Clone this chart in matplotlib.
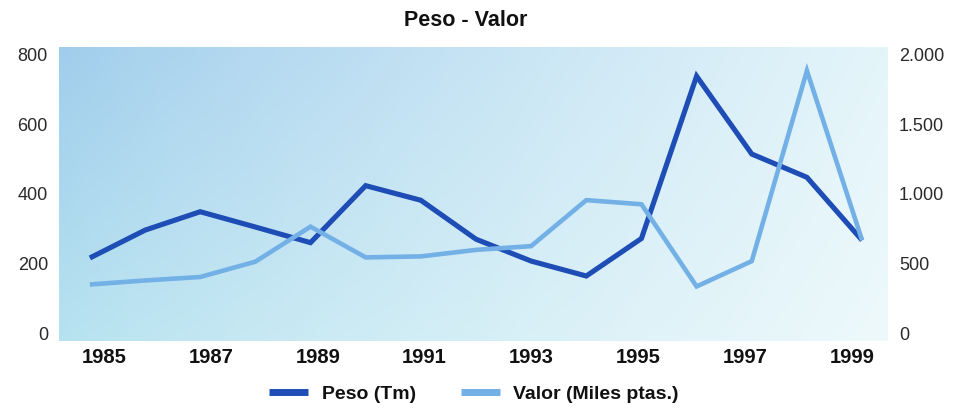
import numpy as np
import matplotlib
matplotlib.use("Agg")
import matplotlib.pyplot as plt
from matplotlib.lines import Line2D
from matplotlib.ticker import FuncFormatter

plt.rcParams["font.family"] = ["Liberation Sans", "DejaVu Sans"]

# Annual series
years = [1985, 1986, 1987, 1988, 1989, 1990, 1991, 1992,
         1993, 1994, 1995, 1996, 1997, 1998, 1999]
peso_tm = [216, 296, 349, 305, 260, 424, 382, 270,
           207, 164, 272, 739, 515, 448, 267]
valor_miles = [349, 378, 403, 513, 765, 544, 551, 598,
               625, 956, 926, 335, 517, 1887, 667]

label_years = [1985, 1987, 1989, 1991, 1993, 1995, 1997, 1999]
left_ticks = [0, 200, 400, 600, 800]
right_ticks = [0, 500, 1000, 1500, 2000]

title = "Peso - Valor"
peso_label = "Peso (Tm)"
valor_label = "Valor (Miles ptas.)"

dark_blue = "#1f4db6"
light_blue = "#72b0e6"

W, H = 954, 412
fig = plt.figure(figsize=(W / 100, H / 100), dpi=100)
fig.patch.set_facecolor("white")

x0, x1, y0, y1 = 59, 888, 47, 341
rect = [x0 / W, 1 - y1 / H, (x1 - x0) / W, (y1 - y0) / H]
ax = fig.add_axes(rect)
for s in ax.spines.values():
    s.set_visible(False)

# soft blue gradient panel
nx, ny = 300, 120
u = np.linspace(0, 1, nx)[None, :]
v = np.linspace(0, 1, ny)[:, None]  # 0 top -> 1 bottom
tl = np.array([160, 205, 236]) / 255
tr = np.array([228, 245, 250]) / 255
bl = np.array([182, 226, 240]) / 255
br = np.array([238, 249, 251]) / 255
uu = (u ** 0.85)[..., None]
vv = v[..., None]
grad = (tl * (1 - uu) * (1 - vv) + tr * uu * (1 - vv)
        + bl * (1 - uu) * vv + br * uu * vv)
ax.imshow(grad, extent=[0, 1, 0, 1], transform=ax.transAxes,
          aspect="auto", zorder=0, interpolation="bicubic")

ax.set_xlim(1984.44, 1999.47)
ax.set_ylim(-23, 823)
ax.set_xticks([])
ax.set_yticks(left_ticks)
ax.tick_params(axis="y", length=0, pad=8, labelsize=13, labelcolor="#2a2a2a")

ax.plot(years, peso_tm, color=dark_blue, lw=3.7, zorder=3,
        solid_joinstyle="miter", solid_capstyle="butt")

ax2 = ax.twinx()
for s in ax2.spines.values():
    s.set_visible(False)
ax2.set_ylim(-57.5, 2057.5)
ax2.set_yticks(right_ticks)
ax2.yaxis.set_major_formatter(
    FuncFormatter(lambda val, pos: f"{int(val):,}".replace(",", ".")))
ax2.tick_params(axis="y", length=0, pad=8, labelsize=13, labelcolor="#2a2a2a")
ax2.plot(years, valor_miles, color=light_blue, lw=3.3, zorder=4,
         solid_joinstyle="miter", solid_capstyle="butt")

# year labels along the bottom
lab = fig.add_axes(rect, frameon=False)
lab.patch.set_alpha(0)
lab.set_xlim(1984.158, 1999.674)
lab.set_yticks([])
lab.set_xticks(label_years)
lab.set_xticklabels([str(y) for y in label_years], fontweight="bold")
lab.tick_params(axis="x", length=0, pad=5, labelsize=14.5, labelcolor="#111111")

fig.text(466 / W, 1 - 20.5 / H, title, ha="center", va="center",
         fontsize=15.5, fontweight="bold", color="#111111")

handles = [Line2D([], [], color=dark_blue, lw=5, solid_capstyle="butt"),
           Line2D([], [], color=light_blue, lw=5, solid_capstyle="butt")]
fig.legend(handles, [peso_label, valor_label], loc="center",
           bbox_to_anchor=(474 / W, 1 - 394 / H), ncol=2, frameon=False,
           prop={"weight": "bold", "size": 14}, handlelength=2.0,
           handletextpad=0.7, columnspacing=2.3, labelcolor="#111111")

fig.savefig("out.png", dpi=100)
